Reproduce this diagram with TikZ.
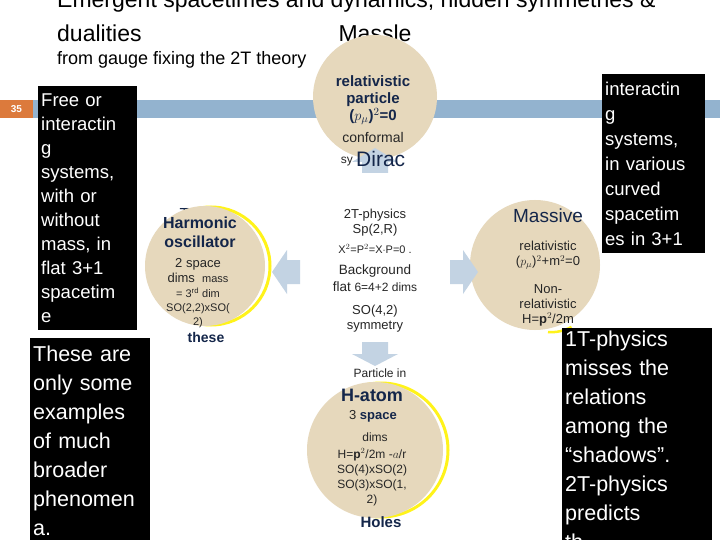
\documentclass[tikz,border=0pt]{standalone}
\usepackage{fontspec}
\setmainfont{Liberation Sans}
\definecolor{tan}{HTML}{E6D8BC}
\definecolor{barblue}{HTML}{93B3CF}
\definecolor{arr}{HTML}{C3D3E3}
\definecolor{navy}{HTML}{14264A}
\definecolor{orng}{HTML}{DC7A3C}
\tikzset{
  circ/.style={circle,fill=tan,draw=none,minimum size=#1},
  glow/.style={circle,draw=yellow!90!white,line width=3pt,minimum size=#1},
  blk/.style 2 args={fill=black,text=white,align=left,anchor=north west,inner sep=3pt,font=\fontsize{#1}{#2}\selectfont},
  dk/.style={text=navy,align=center,inner sep=0pt},
  gr/.style={text=black!85,align=center,inner sep=0pt},
  barr/.style={fill=arr,draw=none}
}
\begin{document}
\begin{tikzpicture}[x=1pt,y=-1pt]
\useasboundingbox[fill=white] (0,0) rectangle (720,540);
% title
\node[anchor=west,font=\fontsize{23}{26}\selectfont,inner sep=0pt] (t1) at (57,2) {Emergent spacetimes and dynamics, hidden symmetries \&};
\node[anchor=west,font=\fontsize{23}{26}\selectfont,inner sep=0pt] (t2) at (57,33) {dualities};
\node[anchor=west,font=\fontsize{18}{20}\selectfont,inner sep=0pt] (t3) at (57,60) {from gauge fixing the 2T theory};
\node[font=\fontsize{23}{26}\selectfont,inner sep=0pt] (m1) at (375,33) {Massle};
\node[font=\fontsize{23}{26}\selectfont,inner sep=0pt] (m2) at (375,60) {ss};
% bar
\fill[barblue] (0,100) rectangle (720,118);
\node[fill=orng,text=white,minimum width=33pt,minimum height=18pt,inner sep=0pt,font=\fontsize{10}{12}\selectfont\bfseries] (num) at (16.5,109) {35};
% circles
\node[circ=124pt] (ctop) at (375,97) {};
\node[gr,font=\fontsize{16}{18}\selectfont,text=navy] (tw) at (205,214) {Twistor};
\node[glow=118pt,xshift=6pt] (gl) at (205,266) {};
\node[circ=120pt] (cleft) at (205,266) {};
\node[glow=134pt,xshift=6pt] (gb) at (375,450) {};
\node[circ=136pt] (cbot) at (375,450) {};
\node[circ=130pt] (cright) at (535,265) {};
\draw[yellow!90!white,line width=2.5pt] (548,332) arc (95:60:40);
% block arrows
\fill[barr] (352,162) -- (375,148) -- (398,162) -- (388,162) -- (388,173) -- (362,173) -- (362,162) -- cycle;
\fill[barr] (272,272) -- (287,250) -- (287,260) -- (300,260) -- (300,284) -- (287,284) -- (287,294) -- cycle;
\fill[barr] (478,272) -- (463,250) -- (463,260) -- (450,260) -- (450,284) -- (463,284) -- (463,294) -- cycle;
\fill[barr] (352,354) -- (375,366) -- (398,354) -- (388,354) -- (388,342) -- (362,342) -- (362,354) -- cycle;
% top circle text
\node[dk,font=\fontsize{15}{17}\selectfont\bfseries] (tt) at (373,100) {relativistic\\particle\\($p_\mu$)$^2$=0};
\node[gr,font=\fontsize{14}{16}\selectfont] (conf) at (373,137) {conformal};
\node[gr,font=\fontsize{12}{14}\selectfont,anchor=east] (sy) at (353,162) {sy};
\node[dk,font=\fontsize{21}{24}\selectfont,anchor=west] (dir) at (356,159) {Dirac};
% center text
\node[gr,font=\fontsize{13}{15}\selectfont] (c1) at (375,223) {2T-physics\\Sp(2,R)};
\node[gr,font=\fontsize{11}{13}\selectfont] (c2) at (375,249) {X$^2$=P$^2$=X$\cdot$P=0 .};
\node[gr,font=\fontsize{13.5}{17}\selectfont] (c3) at (375,278) {Background\\flat {\fontsize{12}{14}\selectfont 6=4+2 dims}};
\node[gr,font=\fontsize{13}{15}\selectfont] (c4) at (375,319) {SO(4,2)\\symmetry};
% left circle text
\node[dk,font=\fontsize{16}{19}\selectfont\bfseries] (h1) at (200,232) {Harmonic\\oscillator};
\node[gr,font=\fontsize{13}{15}\selectfont] (h2) at (198,271) {2 space\\dims\ \ {\fontsize{11}{13}\selectfont mass}};
\node[gr,font=\fontsize{11}{14}\selectfont] (h3) at (198,308) {= 3$^{\mathrm{rd}}$ dim\\SO(2,2)xSO(\\2)};
\node[dk,font=\fontsize{14}{16}\selectfont\bfseries] (th) at (206,337) {these};
% bottom circle text
\node[gr,font=\fontsize{12}{14}\selectfont] (b0) at (380,373) {Particle in};
\node[dk,font=\fontsize{18}{20}\selectfont\bfseries] (b1) at (372,395) {H-atom};
\node[gr,font=\fontsize{13}{15}\selectfont] (b2) at (373,416) {3 \textbf{\color{navy}space}};
\node[gr,font=\fontsize{12}{14}\selectfont] (b3) at (375,437) {dims};
\node[gr,font=\fontsize{12}{15}\selectfont] (b4) at (372,477) {H=$\mathbf{p}^2$/2m -$a$/r\\SO(4)xSO(2)\\SO(3)xSO(1,\\2)};
\node[dk,font=\fontsize{15}{17}\selectfont\bfseries] (b5) at (381,522) {Holes};
% right circle text
\node[dk,font=\fontsize{19}{22}\selectfont] (r1) at (548,216) {Massive};
\node[gr,font=\fontsize{13}{15}\selectfont] (r2) at (548,255) {relativistic\\($p_\mu$)$^2$+m$^2$=0};
\node[gr,font=\fontsize{13}{15}\selectfont] (r3) at (548,305) {Non-\\relativistic\\H=$\mathbf{p}^2$/2m};
% black boxes
\node[blk={18.5pt}{24pt},text width=93pt,minimum height=244pt] (bx1) at (38,86) {Free or\\interactin\\g\\systems,\\with or\\without\\mass, in\\flat 3+1\\spacetim\\e};
\node[blk={21.5pt}{29pt},text width=114pt,minimum height=205pt] (bx2) at (30,338) {These are\\only some\\examples\\of much\\broader\\phenomen\\a.};
\node[blk={18.5pt}{25pt},text width=97pt,minimum height=179pt] (bx3) at (602,74) {interactin\\g\\systems,\\in various\\curved\\spacetim\\es in 3+1};
\node[blk={21.5pt}{29pt},text width=144pt,minimum height=215pt] (bx4) at (562,328) {1T-physics\\misses the\\relations\\among the\\“shadows”.\\2T-physics\\predicts\\th};
\end{tikzpicture}
\end{document}
